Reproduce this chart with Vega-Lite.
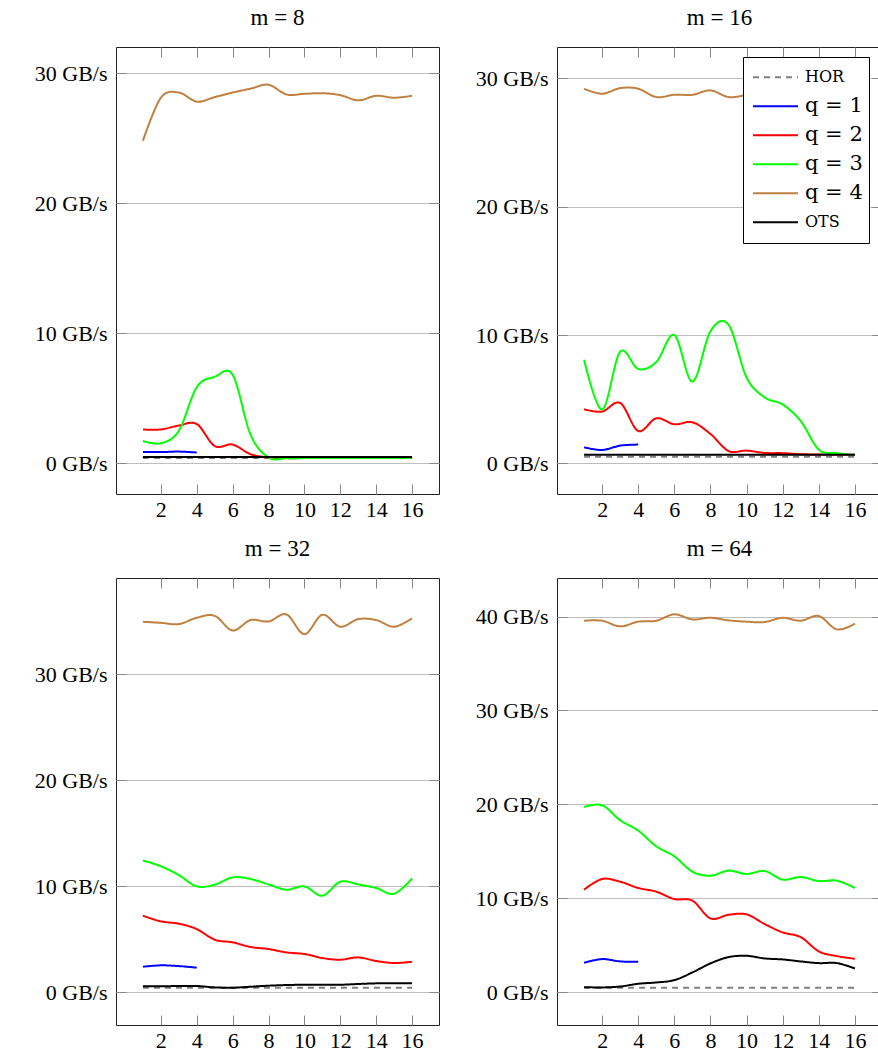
{
"$schema": "https://vega.github.io/schema/vega-lite/v6.json",
"padding": {"left": 33, "top": 6, "right": 0, "bottom": 0},
"config": {
  "font": "Liberation Serif",
  "view": {"stroke": "#222", "strokeWidth": 1},
  "axis": {"labelFontSize": 22, "labelColor": "black", "labelFont": "Liberation Serif", "domain": false, "tickColor": "#888", "tickWidth": 1, "gridColor": "#bdbdbd", "gridWidth": 1},
  "title": {"fontSize": 23, "fontWeight": "normal", "font": "Liberation Serif", "offset": 17, "baseline": "alphabetic", "color": "black"},
  "legend": {"labelFont": "DejaVu Serif", "labelFontSize": 21, "labelColor": "black"}
},
"data": {"values": [
{"m":8,"s":"HOR","x":1,"v":0.4},{"m":8,"s":"HOR","x":2,"v":0.4},{"m":8,"s":"HOR","x":3,"v":0.4},{"m":8,"s":"HOR","x":4,"v":0.4},{"m":8,"s":"HOR","x":5,"v":0.4},{"m":8,"s":"HOR","x":6,"v":0.4},{"m":8,"s":"HOR","x":7,"v":0.4},{"m":8,"s":"HOR","x":8,"v":0.4},{"m":8,"s":"HOR","x":9,"v":0.4},{"m":8,"s":"HOR","x":10,"v":0.4},{"m":8,"s":"HOR","x":11,"v":0.4},{"m":8,"s":"HOR","x":12,"v":0.4},{"m":8,"s":"HOR","x":13,"v":0.4},{"m":8,"s":"HOR","x":14,"v":0.4},{"m":8,"s":"HOR","x":15,"v":0.4},{"m":8,"s":"HOR","x":16,"v":0.4},
{"m":8,"s":"q = 1","x":1,"v":0.87},{"m":8,"s":"q = 1","x":2,"v":0.86},{"m":8,"s":"q = 1","x":3,"v":0.9},{"m":8,"s":"q = 1","x":4,"v":0.83},
{"m":8,"s":"q = 2","x":1,"v":2.6},{"m":8,"s":"q = 2","x":2,"v":2.6},{"m":8,"s":"q = 2","x":3,"v":2.9},{"m":8,"s":"q = 2","x":4,"v":3.02},{"m":8,"s":"q = 2","x":5,"v":1.33},{"m":8,"s":"q = 2","x":6,"v":1.44},{"m":8,"s":"q = 2","x":7,"v":0.7},{"m":8,"s":"q = 2","x":8,"v":0.45},{"m":8,"s":"q = 2","x":9,"v":0.4},{"m":8,"s":"q = 2","x":10,"v":0.4},{"m":8,"s":"q = 2","x":11,"v":0.4},{"m":8,"s":"q = 2","x":12,"v":0.4},{"m":8,"s":"q = 2","x":13,"v":0.4},{"m":8,"s":"q = 2","x":14,"v":0.4},{"m":8,"s":"q = 2","x":15,"v":0.4},{"m":8,"s":"q = 2","x":16,"v":0.4},
{"m":8,"s":"q = 3","x":1,"v":1.72},{"m":8,"s":"q = 3","x":2,"v":1.54},{"m":8,"s":"q = 3","x":3,"v":2.5},{"m":8,"s":"q = 3","x":4,"v":5.85},{"m":8,"s":"q = 3","x":5,"v":6.65},{"m":8,"s":"q = 3","x":6,"v":6.8},{"m":8,"s":"q = 3","x":7,"v":2.2},{"m":8,"s":"q = 3","x":8,"v":0.45},{"m":8,"s":"q = 3","x":9,"v":0.38},{"m":8,"s":"q = 3","x":10,"v":0.4},{"m":8,"s":"q = 3","x":11,"v":0.4},{"m":8,"s":"q = 3","x":12,"v":0.4},{"m":8,"s":"q = 3","x":13,"v":0.4},{"m":8,"s":"q = 3","x":14,"v":0.4},{"m":8,"s":"q = 3","x":15,"v":0.4},{"m":8,"s":"q = 3","x":16,"v":0.42},
{"m":8,"s":"q = 4","x":1,"v":24.8},{"m":8,"s":"q = 4","x":2,"v":28.1},{"m":8,"s":"q = 4","x":3,"v":28.5},{"m":8,"s":"q = 4","x":4,"v":27.8},{"m":8,"s":"q = 4","x":5,"v":28.15},{"m":8,"s":"q = 4","x":6,"v":28.5},{"m":8,"s":"q = 4","x":7,"v":28.8},{"m":8,"s":"q = 4","x":8,"v":29.1},{"m":8,"s":"q = 4","x":9,"v":28.35},{"m":8,"s":"q = 4","x":10,"v":28.4},{"m":8,"s":"q = 4","x":11,"v":28.45},{"m":8,"s":"q = 4","x":12,"v":28.3},{"m":8,"s":"q = 4","x":13,"v":27.9},{"m":8,"s":"q = 4","x":14,"v":28.25},{"m":8,"s":"q = 4","x":15,"v":28.1},{"m":8,"s":"q = 4","x":16,"v":28.25},
{"m":8,"s":"OTS","x":1,"v":0.49},{"m":8,"s":"OTS","x":2,"v":0.49},{"m":8,"s":"OTS","x":3,"v":0.49},{"m":8,"s":"OTS","x":4,"v":0.49},{"m":8,"s":"OTS","x":5,"v":0.49},{"m":8,"s":"OTS","x":6,"v":0.49},{"m":8,"s":"OTS","x":7,"v":0.49},{"m":8,"s":"OTS","x":8,"v":0.49},{"m":8,"s":"OTS","x":9,"v":0.49},{"m":8,"s":"OTS","x":10,"v":0.49},{"m":8,"s":"OTS","x":11,"v":0.49},{"m":8,"s":"OTS","x":12,"v":0.49},{"m":8,"s":"OTS","x":13,"v":0.49},{"m":8,"s":"OTS","x":14,"v":0.49},{"m":8,"s":"OTS","x":15,"v":0.49},{"m":8,"s":"OTS","x":16,"v":0.49},
{"m":16,"s":"HOR","x":1,"v":0.53},{"m":16,"s":"HOR","x":2,"v":0.53},{"m":16,"s":"HOR","x":3,"v":0.53},{"m":16,"s":"HOR","x":4,"v":0.53},{"m":16,"s":"HOR","x":5,"v":0.53},{"m":16,"s":"HOR","x":6,"v":0.53},{"m":16,"s":"HOR","x":7,"v":0.53},{"m":16,"s":"HOR","x":8,"v":0.53},{"m":16,"s":"HOR","x":9,"v":0.53},{"m":16,"s":"HOR","x":10,"v":0.53},{"m":16,"s":"HOR","x":11,"v":0.53},{"m":16,"s":"HOR","x":12,"v":0.53},{"m":16,"s":"HOR","x":13,"v":0.53},{"m":16,"s":"HOR","x":14,"v":0.53},{"m":16,"s":"HOR","x":15,"v":0.53},{"m":16,"s":"HOR","x":16,"v":0.53},
{"m":16,"s":"q = 1","x":1,"v":1.26},{"m":16,"s":"q = 1","x":2,"v":1.05},{"m":16,"s":"q = 1","x":3,"v":1.39},{"m":16,"s":"q = 1","x":4,"v":1.47},
{"m":16,"s":"q = 2","x":1,"v":4.22},{"m":16,"s":"q = 2","x":2,"v":4.04},{"m":16,"s":"q = 2","x":3,"v":4.71},{"m":16,"s":"q = 2","x":4,"v":2.53},{"m":16,"s":"q = 2","x":5,"v":3.52},{"m":16,"s":"q = 2","x":6,"v":3.05},{"m":16,"s":"q = 2","x":7,"v":3.21},{"m":16,"s":"q = 2","x":8,"v":2.3},{"m":16,"s":"q = 2","x":9,"v":0.97},{"m":16,"s":"q = 2","x":10,"v":1.0},{"m":16,"s":"q = 2","x":11,"v":0.82},{"m":16,"s":"q = 2","x":12,"v":0.8},{"m":16,"s":"q = 2","x":13,"v":0.72},{"m":16,"s":"q = 2","x":14,"v":0.7},{"m":16,"s":"q = 2","x":15,"v":0.7},{"m":16,"s":"q = 2","x":16,"v":0.68},
{"m":16,"s":"q = 3","x":1,"v":8.07},{"m":16,"s":"q = 3","x":2,"v":4.2},{"m":16,"s":"q = 3","x":3,"v":8.7},{"m":16,"s":"q = 3","x":4,"v":7.36},{"m":16,"s":"q = 3","x":5,"v":7.9},{"m":16,"s":"q = 3","x":6,"v":10.0},{"m":16,"s":"q = 3","x":7,"v":6.38},{"m":16,"s":"q = 3","x":8,"v":10.3},{"m":16,"s":"q = 3","x":9,"v":10.8},{"m":16,"s":"q = 3","x":10,"v":6.7},{"m":16,"s":"q = 3","x":11,"v":5.15},{"m":16,"s":"q = 3","x":12,"v":4.6},{"m":16,"s":"q = 3","x":13,"v":3.3},{"m":16,"s":"q = 3","x":14,"v":1.08},{"m":16,"s":"q = 3","x":15,"v":0.8},{"m":16,"s":"q = 3","x":16,"v":0.66},
{"m":16,"s":"q = 4","x":1,"v":29.19},{"m":16,"s":"q = 4","x":2,"v":28.8},{"m":16,"s":"q = 4","x":3,"v":29.24},{"m":16,"s":"q = 4","x":4,"v":29.19},{"m":16,"s":"q = 4","x":5,"v":28.54},{"m":16,"s":"q = 4","x":6,"v":28.72},{"m":16,"s":"q = 4","x":7,"v":28.72},{"m":16,"s":"q = 4","x":8,"v":29.06},{"m":16,"s":"q = 4","x":9,"v":28.54},{"m":16,"s":"q = 4","x":10,"v":28.7},{"m":16,"s":"q = 4","x":11,"v":28.9},{"m":16,"s":"q = 4","x":12,"v":28.6},{"m":16,"s":"q = 4","x":13,"v":28.8},{"m":16,"s":"q = 4","x":14,"v":28.7},{"m":16,"s":"q = 4","x":15,"v":28.9},{"m":16,"s":"q = 4","x":16,"v":28.8},
{"m":16,"s":"OTS","x":1,"v":0.68},{"m":16,"s":"OTS","x":2,"v":0.68},{"m":16,"s":"OTS","x":3,"v":0.68},{"m":16,"s":"OTS","x":4,"v":0.68},{"m":16,"s":"OTS","x":5,"v":0.68},{"m":16,"s":"OTS","x":6,"v":0.68},{"m":16,"s":"OTS","x":7,"v":0.68},{"m":16,"s":"OTS","x":8,"v":0.68},{"m":16,"s":"OTS","x":9,"v":0.68},{"m":16,"s":"OTS","x":10,"v":0.68},{"m":16,"s":"OTS","x":11,"v":0.68},{"m":16,"s":"OTS","x":12,"v":0.68},{"m":16,"s":"OTS","x":13,"v":0.68},{"m":16,"s":"OTS","x":14,"v":0.68},{"m":16,"s":"OTS","x":15,"v":0.68},{"m":16,"s":"OTS","x":16,"v":0.68},
{"m":32,"s":"HOR","x":1,"v":0.44},{"m":32,"s":"HOR","x":2,"v":0.44},{"m":32,"s":"HOR","x":3,"v":0.44},{"m":32,"s":"HOR","x":4,"v":0.44},{"m":32,"s":"HOR","x":5,"v":0.44},{"m":32,"s":"HOR","x":6,"v":0.44},{"m":32,"s":"HOR","x":7,"v":0.44},{"m":32,"s":"HOR","x":8,"v":0.44},{"m":32,"s":"HOR","x":9,"v":0.44},{"m":32,"s":"HOR","x":10,"v":0.44},{"m":32,"s":"HOR","x":11,"v":0.44},{"m":32,"s":"HOR","x":12,"v":0.44},{"m":32,"s":"HOR","x":13,"v":0.44},{"m":32,"s":"HOR","x":14,"v":0.44},{"m":32,"s":"HOR","x":15,"v":0.44},{"m":32,"s":"HOR","x":16,"v":0.44},
{"m":32,"s":"q = 1","x":1,"v":2.42},{"m":32,"s":"q = 1","x":2,"v":2.55},{"m":32,"s":"q = 1","x":3,"v":2.48},{"m":32,"s":"q = 1","x":4,"v":2.33},
{"m":32,"s":"q = 2","x":1,"v":7.23},{"m":32,"s":"q = 2","x":2,"v":6.7},{"m":32,"s":"q = 2","x":3,"v":6.48},{"m":32,"s":"q = 2","x":4,"v":5.97},{"m":32,"s":"q = 2","x":5,"v":4.97},{"m":32,"s":"q = 2","x":6,"v":4.72},{"m":32,"s":"q = 2","x":7,"v":4.28},{"m":32,"s":"q = 2","x":8,"v":4.09},{"m":32,"s":"q = 2","x":9,"v":3.77},{"m":32,"s":"q = 2","x":10,"v":3.62},{"m":32,"s":"q = 2","x":11,"v":3.24},{"m":32,"s":"q = 2","x":12,"v":3.08},{"m":32,"s":"q = 2","x":13,"v":3.3},{"m":32,"s":"q = 2","x":14,"v":2.96},{"m":32,"s":"q = 2","x":15,"v":2.77},{"m":32,"s":"q = 2","x":16,"v":2.89},
{"m":32,"s":"q = 3","x":1,"v":12.45},{"m":32,"s":"q = 3","x":2,"v":11.9},{"m":32,"s":"q = 3","x":3,"v":11.07},{"m":32,"s":"q = 3","x":4,"v":10.0},{"m":32,"s":"q = 3","x":5,"v":10.16},{"m":32,"s":"q = 3","x":6,"v":10.85},{"m":32,"s":"q = 3","x":7,"v":10.7},{"m":32,"s":"q = 3","x":8,"v":10.19},{"m":32,"s":"q = 3","x":9,"v":9.69},{"m":32,"s":"q = 3","x":10,"v":10.0},{"m":32,"s":"q = 3","x":11,"v":9.12},{"m":32,"s":"q = 3","x":12,"v":10.44},{"m":32,"s":"q = 3","x":13,"v":10.19},{"m":32,"s":"q = 3","x":14,"v":9.84},{"m":32,"s":"q = 3","x":15,"v":9.31},{"m":32,"s":"q = 3","x":16,"v":10.75},
{"m":32,"s":"q = 4","x":1,"v":34.97},{"m":32,"s":"q = 4","x":2,"v":34.87},{"m":32,"s":"q = 4","x":3,"v":34.75},{"m":32,"s":"q = 4","x":4,"v":35.35},{"m":32,"s":"q = 4","x":5,"v":35.53},{"m":32,"s":"q = 4","x":6,"v":34.15},{"m":32,"s":"q = 4","x":7,"v":35.13},{"m":32,"s":"q = 4","x":8,"v":35.0},{"m":32,"s":"q = 4","x":9,"v":35.66},{"m":32,"s":"q = 4","x":10,"v":33.8},{"m":32,"s":"q = 4","x":11,"v":35.63},{"m":32,"s":"q = 4","x":12,"v":34.5},{"m":32,"s":"q = 4","x":13,"v":35.22},{"m":32,"s":"q = 4","x":14,"v":35.13},{"m":32,"s":"q = 4","x":15,"v":34.5},{"m":32,"s":"q = 4","x":16,"v":35.3},
{"m":32,"s":"OTS","x":1,"v":0.57},{"m":32,"s":"OTS","x":2,"v":0.57},{"m":32,"s":"OTS","x":3,"v":0.6},{"m":32,"s":"OTS","x":4,"v":0.6},{"m":32,"s":"OTS","x":5,"v":0.47},{"m":32,"s":"OTS","x":6,"v":0.44},{"m":32,"s":"OTS","x":7,"v":0.53},{"m":32,"s":"OTS","x":8,"v":0.63},{"m":32,"s":"OTS","x":9,"v":0.69},{"m":32,"s":"OTS","x":10,"v":0.72},{"m":32,"s":"OTS","x":11,"v":0.72},{"m":32,"s":"OTS","x":12,"v":0.72},{"m":32,"s":"OTS","x":13,"v":0.79},{"m":32,"s":"OTS","x":14,"v":0.85},{"m":32,"s":"OTS","x":15,"v":0.85},{"m":32,"s":"OTS","x":16,"v":0.85},
{"m":64,"s":"HOR","x":1,"v":0.46},{"m":64,"s":"HOR","x":2,"v":0.46},{"m":64,"s":"HOR","x":3,"v":0.46},{"m":64,"s":"HOR","x":4,"v":0.46},{"m":64,"s":"HOR","x":5,"v":0.46},{"m":64,"s":"HOR","x":6,"v":0.46},{"m":64,"s":"HOR","x":7,"v":0.46},{"m":64,"s":"HOR","x":8,"v":0.46},{"m":64,"s":"HOR","x":9,"v":0.46},{"m":64,"s":"HOR","x":10,"v":0.46},{"m":64,"s":"HOR","x":11,"v":0.46},{"m":64,"s":"HOR","x":12,"v":0.46},{"m":64,"s":"HOR","x":13,"v":0.46},{"m":64,"s":"HOR","x":14,"v":0.46},{"m":64,"s":"HOR","x":15,"v":0.46},{"m":64,"s":"HOR","x":16,"v":0.46},
{"m":64,"s":"q = 1","x":1,"v":3.13},{"m":64,"s":"q = 1","x":2,"v":3.52},{"m":64,"s":"q = 1","x":3,"v":3.27},{"m":64,"s":"q = 1","x":4,"v":3.23},
{"m":64,"s":"q = 2","x":1,"v":10.91},{"m":64,"s":"q = 2","x":2,"v":12.05},{"m":64,"s":"q = 2","x":3,"v":11.76},{"m":64,"s":"q = 2","x":4,"v":11.09},{"m":64,"s":"q = 2","x":5,"v":10.7},{"m":64,"s":"q = 2","x":6,"v":9.91},{"m":64,"s":"q = 2","x":7,"v":9.74},{"m":64,"s":"q = 2","x":8,"v":7.85},{"m":64,"s":"q = 2","x":9,"v":8.24},{"m":64,"s":"q = 2","x":10,"v":8.28},{"m":64,"s":"q = 2","x":11,"v":7.25},{"m":64,"s":"q = 2","x":12,"v":6.36},{"m":64,"s":"q = 2","x":13,"v":5.86},{"m":64,"s":"q = 2","x":14,"v":4.34},{"m":64,"s":"q = 2","x":15,"v":3.84},{"m":64,"s":"q = 2","x":16,"v":3.55},
{"m":64,"s":"q = 3","x":1,"v":19.72},{"m":64,"s":"q = 3","x":2,"v":19.9},{"m":64,"s":"q = 3","x":3,"v":18.3},{"m":64,"s":"q = 3","x":4,"v":17.2},{"m":64,"s":"q = 3","x":5,"v":15.53},{"m":64,"s":"q = 3","x":6,"v":14.46},{"m":64,"s":"q = 3","x":7,"v":12.83},{"m":64,"s":"q = 3","x":8,"v":12.4},{"m":64,"s":"q = 3","x":9,"v":12.94},{"m":64,"s":"q = 3","x":10,"v":12.58},{"m":64,"s":"q = 3","x":11,"v":12.9},{"m":64,"s":"q = 3","x":12,"v":11.98},{"m":64,"s":"q = 3","x":13,"v":12.26},{"m":64,"s":"q = 3","x":14,"v":11.83},{"m":64,"s":"q = 3","x":15,"v":11.87},{"m":64,"s":"q = 3","x":16,"v":11.09},
{"m":64,"s":"q = 4","x":1,"v":39.55},{"m":64,"s":"q = 4","x":2,"v":39.55},{"m":64,"s":"q = 4","x":3,"v":38.95},{"m":64,"s":"q = 4","x":4,"v":39.45},{"m":64,"s":"q = 4","x":5,"v":39.55},{"m":64,"s":"q = 4","x":6,"v":40.23},{"m":64,"s":"q = 4","x":7,"v":39.69},{"m":64,"s":"q = 4","x":8,"v":39.87},{"m":64,"s":"q = 4","x":9,"v":39.59},{"m":64,"s":"q = 4","x":10,"v":39.45},{"m":64,"s":"q = 4","x":11,"v":39.41},{"m":64,"s":"q = 4","x":12,"v":39.87},{"m":64,"s":"q = 4","x":13,"v":39.55},{"m":64,"s":"q = 4","x":14,"v":40.05},{"m":64,"s":"q = 4","x":15,"v":38.63},{"m":64,"s":"q = 4","x":16,"v":39.23},
{"m":64,"s":"OTS","x":1,"v":0.53},{"m":64,"s":"OTS","x":2,"v":0.5},{"m":64,"s":"OTS","x":3,"v":0.6},{"m":64,"s":"OTS","x":4,"v":0.89},{"m":64,"s":"OTS","x":5,"v":1.03},{"m":64,"s":"OTS","x":6,"v":1.28},{"m":64,"s":"OTS","x":7,"v":2.1},{"m":64,"s":"OTS","x":8,"v":3.06},{"m":64,"s":"OTS","x":9,"v":3.73},{"m":64,"s":"OTS","x":10,"v":3.87},{"m":64,"s":"OTS","x":11,"v":3.59},{"m":64,"s":"OTS","x":12,"v":3.48},{"m":64,"s":"OTS","x":13,"v":3.27},{"m":64,"s":"OTS","x":14,"v":3.09},{"m":64,"s":"OTS","x":15,"v":3.09},{"m":64,"s":"OTS","x":16,"v":2.52}
]},
"resolve": {"scale": {"color": "independent", "strokeDash": "independent"}, "legend": {"color": "independent", "strokeDash": "independent"}},
"spacing": 16,
"vconcat": [
{"hconcat": [
 {"title": "m = 8", "width": 323, "height": 447,
  "transform": [{"filter": "datum.m == 8"}],
  "layer": [
   {"mark": {"type": "line", "interpolate": "cardinal", "strokeWidth": 2},
    "encoding": {
     "x": {"field": "x", "type": "quantitative", "scale": {"domain": [-0.5, 17.5], "nice": false, "zero": false}, "axis": {"orient": "bottom", "values": [2,4,6,8,10,12,14,16], "title": null, "grid": false, "tickSize": -10, "labelPadding": 15}},
     "y": {"field": "v", "type": "quantitative", "scale": {"domain": [-2.36, 32], "nice": false, "zero": false}, "axis": {"orient": "left", "values": [0,10,20,30], "title": null, "grid": true, "tickSize": -10, "labelPadding": 19, "labelExpr": "datum.value + ' GB/s'"}},
     "color": {"field": "s", "type": "nominal", "scale": {"domain": ["HOR","q = 1","q = 2","q = 3","q = 4","OTS"], "range": ["#808080","#0000ff","#ff0000","#00ff00","#bf8040","#000000"]}, "legend": null},
     "strokeDash": {"field": "s", "type": "nominal", "scale": {"domain": ["HOR","q = 1","q = 2","q = 3","q = 4","OTS"], "range": [[6,5],[1,0],[1,0],[1,0],[1,0],[1,0]]}, "legend": null}
    }},
   {"mark": {"type": "line", "opacity": 0},
    "encoding": {
     "x": {"field": "x", "type": "quantitative", "axis": {"orient": "top", "values": [2,4,6,8,10,12,14,16], "labels": false, "title": null, "grid": false, "tickSize": -10}},
     "y": {"field": "v", "type": "quantitative", "axis": {"orient": "right", "values": [0,10,20,30], "labels": false, "title": null, "grid": false, "tickSize": -10}},
     "detail": {"field": "s"}
    }}
  ],
  "resolve": {"axis": {"x": "independent", "y": "independent"}}
 },
 {"title": "m = 16", "width": 325, "height": 447,
  "transform": [{"filter": "datum.m == 16"}],
  "layer": [
   {"mark": {"type": "line", "interpolate": "cardinal", "strokeWidth": 2},
    "encoding": {
     "x": {"field": "x", "type": "quantitative", "scale": {"domain": [-0.5, 17.5], "nice": false, "zero": false}, "axis": {"orient": "bottom", "values": [2,4,6,8,10,12,14,16], "title": null, "grid": false, "tickSize": -10, "labelPadding": 15}},
     "y": {"field": "v", "type": "quantitative", "scale": {"domain": [-2.38, 32.44], "nice": false, "zero": false}, "axis": {"orient": "left", "values": [0,10,20,30], "title": null, "grid": true, "tickSize": -10, "labelPadding": 19, "labelExpr": "datum.value + ' GB/s'"}},
     "color": {"field": "s", "type": "nominal", "scale": {"domain": ["HOR","q = 1","q = 2","q = 3","q = 4","OTS"], "range": ["#808080","#0000ff","#ff0000","#00ff00","#bf8040","#000000"]},
       "legend": {"title": null, "orient": "none", "legendX": 186, "legendY": 10, "symbolType": "stroke", "symbolSize": 2025, "symbolStrokeWidth": 2, "clipHeight": 28.5, "rowPadding": 0, "labelOffset": 6, "padding": 6, "symbolOffset": 3, "strokeColor": "black", "fillColor": "white", "labelFontSize": {"expr": "datum.value == 'HOR' || datum.value == 'OTS' ? 16 : 21"}}},
     "strokeDash": {"field": "s", "type": "nominal", "scale": {"domain": ["HOR","q = 1","q = 2","q = 3","q = 4","OTS"], "range": [[6,5],[1,0],[1,0],[1,0],[1,0],[1,0]]},
       "legend": {"title": null, "orient": "none", "legendX": 186, "legendY": 10, "symbolType": "stroke", "symbolSize": 2025, "symbolStrokeWidth": 2, "clipHeight": 28.5, "rowPadding": 0, "labelOffset": 6, "padding": 6, "symbolOffset": 3, "strokeColor": "black", "fillColor": "white", "labelFontSize": {"expr": "datum.value == 'HOR' || datum.value == 'OTS' ? 16 : 21"}}}
    }},
   {"mark": {"type": "line", "opacity": 0},
    "encoding": {
     "x": {"field": "x", "type": "quantitative", "axis": {"orient": "top", "values": [2,4,6,8,10,12,14,16], "labels": false, "title": null, "grid": false, "tickSize": -10}},
     "y": {"field": "v", "type": "quantitative", "axis": {"orient": "right", "values": [0,10,20,30], "labels": false, "title": null, "grid": false, "tickSize": -10}},
     "detail": {"field": "s"}
    }}
  ],
  "resolve": {"axis": {"x": "independent", "y": "independent"}}
 }
], "spacing": 34, "resolve": {"scale": {"color": "independent", "strokeDash": "independent"}, "legend": {"color": "independent", "strokeDash": "independent"}}},
{"hconcat": [
 {"title": "m = 32", "width": 323, "height": 447,
  "transform": [{"filter": "datum.m == 32"}],
  "layer": [
   {"mark": {"type": "line", "interpolate": "cardinal", "strokeWidth": 2},
    "encoding": {
     "x": {"field": "x", "type": "quantitative", "scale": {"domain": [-0.5, 17.5], "nice": false, "zero": false}, "axis": {"orient": "bottom", "values": [2,4,6,8,10,12,14,16], "title": null, "grid": false, "tickSize": -10, "labelPadding": 15}},
     "y": {"field": "v", "type": "quantitative", "scale": {"domain": [-3.08, 39.1], "nice": false, "zero": false}, "axis": {"orient": "left", "values": [0,10,20,30], "title": null, "grid": true, "tickSize": -10, "labelPadding": 19, "labelExpr": "datum.value + ' GB/s'"}},
     "color": {"field": "s", "type": "nominal", "scale": {"domain": ["HOR","q = 1","q = 2","q = 3","q = 4","OTS"], "range": ["#808080","#0000ff","#ff0000","#00ff00","#bf8040","#000000"]}, "legend": null},
     "strokeDash": {"field": "s", "type": "nominal", "scale": {"domain": ["HOR","q = 1","q = 2","q = 3","q = 4","OTS"], "range": [[6,5],[1,0],[1,0],[1,0],[1,0],[1,0]]}, "legend": null}
    }},
   {"mark": {"type": "line", "opacity": 0},
    "encoding": {
     "x": {"field": "x", "type": "quantitative", "axis": {"orient": "top", "values": [2,4,6,8,10,12,14,16], "labels": false, "title": null, "grid": false, "tickSize": -10}},
     "y": {"field": "v", "type": "quantitative", "axis": {"orient": "right", "values": [0,10,20,30], "labels": false, "title": null, "grid": false, "tickSize": -10}},
     "detail": {"field": "s"}
    }}
  ],
  "resolve": {"axis": {"x": "independent", "y": "independent"}}
 },
 {"title": "m = 64", "width": 325, "height": 447,
  "transform": [{"filter": "datum.m == 64"}],
  "layer": [
   {"mark": {"type": "line", "interpolate": "cardinal", "strokeWidth": 2},
    "encoding": {
     "x": {"field": "x", "type": "quantitative", "scale": {"domain": [-0.5, 17.5], "nice": false, "zero": false}, "axis": {"orient": "bottom", "values": [2,4,6,8,10,12,14,16], "title": null, "grid": false, "tickSize": -10, "labelPadding": 15}},
     "y": {"field": "v", "type": "quantitative", "scale": {"domain": [-3.5, 44.1], "nice": false, "zero": false}, "axis": {"orient": "left", "values": [0,10,20,30,40], "title": null, "grid": true, "tickSize": -10, "labelPadding": 19, "labelExpr": "datum.value + ' GB/s'"}},
     "color": {"field": "s", "type": "nominal", "scale": {"domain": ["HOR","q = 1","q = 2","q = 3","q = 4","OTS"], "range": ["#808080","#0000ff","#ff0000","#00ff00","#bf8040","#000000"]}, "legend": null},
     "strokeDash": {"field": "s", "type": "nominal", "scale": {"domain": ["HOR","q = 1","q = 2","q = 3","q = 4","OTS"], "range": [[6,5],[1,0],[1,0],[1,0],[1,0],[1,0]]}, "legend": null}
    }},
   {"mark": {"type": "line", "opacity": 0},
    "encoding": {
     "x": {"field": "x", "type": "quantitative", "axis": {"orient": "top", "values": [2,4,6,8,10,12,14,16], "labels": false, "title": null, "grid": false, "tickSize": -10}},
     "y": {"field": "v", "type": "quantitative", "axis": {"orient": "right", "values": [0,10,20,30,40], "labels": false, "title": null, "grid": false, "tickSize": -10}},
     "detail": {"field": "s"}
    }}
  ],
  "resolve": {"axis": {"x": "independent", "y": "independent"}}
 }
], "spacing": 34, "resolve": {"scale": {"color": "independent", "strokeDash": "independent"}, "legend": {"color": "independent", "strokeDash": "independent"}}}
]
}
